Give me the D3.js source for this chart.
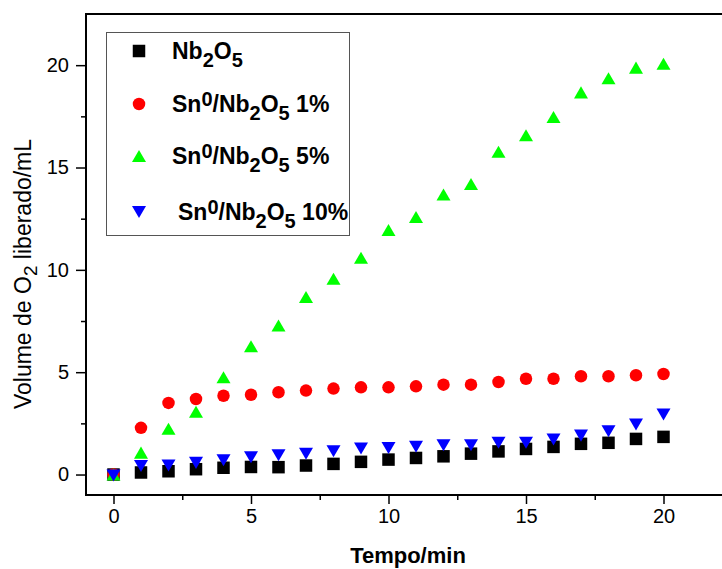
<!DOCTYPE html>
<html>
<head>
<meta charset="utf-8">
<script src="https://cdn.jsdelivr.net/npm/d3@7"></script>
<style>
  body { margin: 0; background: #fff; }
  svg { display: block; }
  text { font-family: "Liberation Sans", Arial, sans-serif; }
</style>
</head>
<body>
<svg id="chart" width="722" height="569"></svg>
<script>
// Oxygen released over time for Nb2O5 and Sn0/Nb2O5 catalysts
const minutes = [0, 1, 2, 3, 4, 5, 6, 7, 8, 9, 10, 11, 12, 13, 14, 15, 16, 17, 18, 19, 20];
const nb2o5   = [0, 0.10, 0.16, 0.26, 0.33, 0.37, 0.36, 0.44, 0.52, 0.62, 0.73, 0.81, 0.89, 1.02, 1.13, 1.25, 1.35, 1.50, 1.55, 1.74, 1.84];
const sn1     = [0, 2.28, 3.50, 3.69, 3.85, 3.90, 4.02, 4.10, 4.20, 4.26, 4.26, 4.31, 4.39, 4.39, 4.52, 4.68, 4.68, 4.80, 4.80, 4.85, 4.91];
const sn5     = [0, 1.07, 2.24, 3.07, 4.75, 6.27, 7.28, 8.67, 9.57, 10.59, 11.95, 12.58, 13.68, 14.19, 15.77, 16.58, 17.47, 18.67, 19.36, 19.88, 20.07];
const sn10    = [-0.05, 0.42, 0.44, 0.57, 0.70, 0.84, 0.94, 1.02, 1.14, 1.27, 1.30, 1.36, 1.43, 1.43, 1.55, 1.55, 1.71, 1.90, 2.11, 2.44, 2.93];

const xTicks = [0, 5, 10, 15, 20];
const xMinor = [2.5, 7.5, 12.5, 17.5];
const yTicks = [0, 5, 10, 15, 20];
const yMinor = [2.5, 7.5, 12.5, 17.5];

const svg = d3.select("#chart");
const plotLeft = 86, plotTop = 14, plotBottom = 495, plotRight = 746;

const x = d3.scaleLinear().domain([-1, 23]).range([plotLeft, plotRight]);
const y = d3.scaleLinear().domain([-1, 22.5]).range([plotBottom, plotTop]);

// plot frame
svg.append("rect")
  .attr("x", plotLeft).attr("y", plotTop)
  .attr("width", plotRight - plotLeft).attr("height", plotBottom - plotTop)
  .attr("fill", "none").attr("stroke", "#000").attr("stroke-width", 2);

// axes with major and minor ticks
const xAxis = svg.append("g").attr("transform", `translate(0,${plotBottom})`);
xAxis.call(d3.axisBottom(x).tickValues(xTicks).tickSize(9).tickPadding(5).tickFormat(d3.format("d")));
xAxis.append("g").call(d3.axisBottom(x).tickValues(xMinor).tickSize(5).tickFormat(""));
const yAxis = svg.append("g").attr("transform", `translate(${plotLeft},0)`);
yAxis.call(d3.axisLeft(y).tickValues(yTicks).tickSize(10).tickPadding(7).tickFormat(d3.format("d")));
yAxis.append("g").call(d3.axisLeft(y).tickValues(yMinor).tickSize(5).tickFormat(""));

svg.selectAll(".domain").remove();
svg.selectAll(".tick line").attr("stroke", "#000").attr("stroke-width", 1.5);
svg.selectAll(".tick text")
  .attr("fill", "#000")
  .style("font-family", '"Liberation Sans", Arial, sans-serif')
  .style("font-size", "20px");

// axis titles
svg.append("text")
  .attr("x", 408).attr("y", 563)
  .attr("text-anchor", "middle")
  .style("font-size", "22px").style("font-weight", "bold")
  .text("Tempo/min");

const yTitle = svg.append("text")
  .attr("transform", "translate(31,274) rotate(-90)")
  .attr("text-anchor", "middle")
  .style("font-size", "23px");
yTitle.append("tspan").text("Volume de O");
yTitle.append("tspan").attr("dy", 6).style("font-size", "19px").text("2");
yTitle.append("tspan").attr("dy", -6).text(" liberado/mL");

// marker shapes
const shapes = {
  square: s => `M${-s/2},${-s/2}h${s}v${s}h${-s}Z`,
  circle: s => d3.arc()({innerRadius: 0, outerRadius: s/2, startAngle: 0, endAngle: 2*Math.PI}),
  up: s => `M0,${-s*0.43}L${s/2},${s*0.43}L${-s/2},${s*0.43}Z`,
  down: s => `M0,${s*0.43}L${s/2},${-s*0.43}L${-s/2},${-s*0.43}Z`
};

const series = [
  { values: nb2o5, color: "#000000", shape: "square", size: 12.5,
    label: [["Nb", ""], ["2", "sub"], ["O", ""], ["5", "sub"]], tx: 172 },
  { values: sn1, color: "#ff0000", shape: "circle", size: 12.5,
    label: [["Sn", ""], ["0", "sup"], ["/Nb", ""], ["2", "sub"], ["O", ""], ["5", "sub"], [" 1%", ""]], tx: 172 },
  { values: sn5, color: "#00ff00", shape: "up", size: 14,
    label: [["Sn", ""], ["0", "sup"], ["/Nb", ""], ["2", "sub"], ["O", ""], ["5", "sub"], [" 5%", ""]], tx: 172 },
  { values: sn10, color: "#0000ff", shape: "down", size: 14,
    label: [["Sn", ""], ["0", "sup"], ["/Nb", ""], ["2", "sub"], ["O", ""], ["5", "sub"], [" 10%", ""]], tx: 178 }
];

series.forEach(s => {
  svg.append("g").selectAll("path")
    .data(minutes.map((m, i) => [m, s.values[i]]))
    .join("path")
    .attr("transform", d => `translate(${x(d[0])},${y(d[1])})`)
    .attr("d", shapes[s.shape](s.size))
    .attr("fill", s.color);
});

// legend
const legend = svg.append("g");
legend.append("rect")
  .attr("x", 106.5).attr("y", 32.5).attr("width", 243).attr("height", 203)
  .attr("fill", "#fff").attr("stroke", "#555").attr("stroke-width", 1);

const rowY = [51, 104, 156, 212];
series.forEach((s, i) => {
  legend.append("path")
    .attr("transform", `translate(139,${rowY[i]})`)
    .attr("d", shapes[s.shape](s.size))
    .attr("fill", s.color);
  const t = legend.append("text")
    .attr("x", s.tx).attr("y", rowY[i] + 8)
    .style("font-size", "23px").style("font-weight", "bold");
  let shift = 0;
  s.label.forEach(([str, kind]) => {
    const target = kind === "sub" ? 8 : kind === "sup" ? -6 : 0;
    const span = t.append("tspan").attr("dy", target - shift).text(str);
    if (kind) span.style("font-size", "20px");
    shift = target;
  });
});
</script>
</body>
</html>
